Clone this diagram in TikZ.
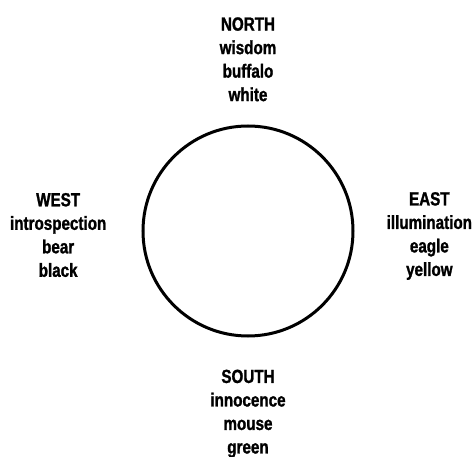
\documentclass[tikz,border=0pt]{standalone}
\usepackage{fontspec}
\setmainfont[FakeStretch=0.8,BoldFeatures={FakeBold=1.3}]{Liberation Sans}
\usepackage{tikz}
\usetikzlibrary{positioning,calc}

\begin{document}
\begin{tikzpicture}[
    wheel/.style={circle, draw, line width=3pt, minimum size=210pt, inner sep=0pt},
    quarter/.style={align=center, inner sep=0pt, font=\fontsize{19}{23.5}\selectfont\bfseries}
]
    \useasboundingbox (-248pt,-226pt) rectangle (228pt,231pt);
    \node [wheel] (medicine) at (0,0) {};
    \node [quarter, above=23pt of medicine] (north) {NORTH\\wisdom\\buffalo\\white};
    \node [quarter, left=35pt of medicine, yshift=-4pt] (west) {WEST\\introspection\\bear\\black};
    \node [quarter, right=32pt of medicine, yshift=-5pt] (east) {EAST\\illumination\\eagle\\yellow};
    \node [quarter, below=32pt of medicine] (south) {SOUTH\\innocence\\mouse\\green};
\end{tikzpicture}
\end{document}
